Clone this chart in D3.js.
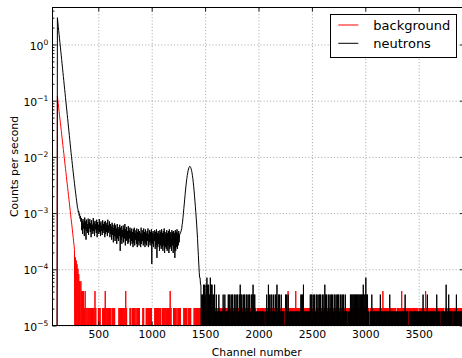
<!DOCTYPE html>
<html>
<head>
<meta charset="utf-8">
<script src="https://cdn.jsdelivr.net/npm/d3@7"></script>
<style>
  html, body { margin: 0; padding: 0; background: #fff; }
  svg { display: block; font-family: "DejaVu Sans", sans-serif; }
</style>
</head>
<body>
<svg id="chart" width="462" height="358"></svg>
<script>
// Spectrum: counts per channel, sampled every `channelStep` channels from `channelStart`.
const channelStart = 101;
const channelStep = 4;

// Live times (s) used to convert counts into counts per second.
const liveTimeBackground = 48800;
const liveTimeNeutrons = 56400;

const backgroundCounts = [
  0,0,0,0,5860,5010,4290,3670,3140,2690,
  2300,1970,1690,1440,1230,1050,900,770,659,563,
  481,412,352,301,258,220,188,161,138,118,
  101,86,74,63,54,46,39,34,29,25,
  21,18,15,13,11,0,8,0,7,0,
  6,0,5,0,4,0,3,2,0,3,
  0,2,0,2,0,2,0,1,0,2,
  0,1,0,1,
  1,0,1,0,1,0,1,0,1,0,1,0,1,0,1,0,1,0,2,0,
  1,0,0,0,0,0,1,0,1,0,1,0,0,0,0,0,1,0,1,0,
  1,0,2,0,1,0,1,0,1,0,1,0,1,0,1,0,0,0,1,0,
  1,0,1,0,1,0,0,0,0,0,0,0,0,0,1,0,1,0,1,0,
  1,0,1,0,1,0,1,0,1,0,2,0,1,0,0,0,0,0,0,0,
  1,0,1,0,0,0,1,0,1,0,1,0,1,0,0,0,1,0,1,0,
  1,0,1,0,0,0,0,0,0,0,1,0,1,0,0,0,0,0,1,0,
  1,0,1,0,1,0,1,0,1,0,1,0,0,0,0,0,0,0,1,0,
  1,0,1,0,1,0,1,0,1,0,1,0,1,0,0,0,1,0,1,0,
  1,0,1,0,1,0,1,0,1,0,1,0,1,0,2,0,1,0,0,0,
  0,0,1,0,1,0,1,0,1,0,0,0,1,0,1,0,1,0,1,0,
  0,0,0,0,0,0,1,0,1,0,1,0,1,0,0,0,1,0,1,0,
  1,0,1,0,0,0,0,0,0,0,1,0,1,0,1,0,1,0,1,0,
  1,0,1,0,1,0,1,0,1,0,1,0,1,0,1,0,1,0,1,0,
  1,0,1,0,1,0,1,0,1,0,1,0,1,0,0,0,1,0,1,0,
  1,0,1,0,1,0,1,0,1,0,1,0,1,0,1,0,1,0,1,0,
  1,0,1,0,1,0,1,0,1,0,1,0,0,0,1,0,1,0,1,0,
  1,0,1,0,1,0,1,0,1,0,1,0,1,0,1,0,1,0,1,0,
  1,0,0,0,1,0,1,0,1,0,1,0,1,0,1,0,1,0,1,0,
  1,0,1,0,1,0,1,0,1,0,1,0,1,0,1,0,0,0,1,0,
  1,0,1,0,1,0,1,0,1,0,1,0,1,0,1,0,1,0,1,0,
  1,0,1,0,1,0,1,0,1,0,0,0,1,0,1,0,1,0,1,0,
  1,0,1,0,1,0,1,0,1,0,1,0,1,0,1,0,1,0,1,0,
  1,0,1,0,1,0,1,0,1,0,2,0,1,0,1,0,1,0,1,0,
  1,0,1,0,1,0,1,0,2,0,1,0,1,0,1,0,1,0,1,0,
  1,0,1,0,0,0,1,0,1,0,1,0,1,0,1,0,1,0,1,0,
  1,0,1,0,1,0,1,0,1,0,1,0,1,0,0,0,1,0,1,0,
  1,0,1,0,1,0,1,0,1,0,1,0,1,0,1,0,1,0,1,0,
  1,0,1,0,1,0,1,0,1,0,1,0,0,0,1,0,1,0,1,0,
  1,0,1,0,1,0,1,0,1,0,1,0,1,0,1,0,1,0,1,0,
  1,0,1,0,1,0,1,0,1,0,1,0,1,0,1,0,1,0,0,0,
  1,0,1,0,1,0,1,0,1,0,1,0,1,0,1,0,1,0,1,0,
  1,0,1,0,1,0,1,0,1,0,1,0,1,0,1,0,1,0,1,0,
  0,0,1,0,1,0,1,0,1,0,1,0,1,0,1,0,1,0,1,0,
  1,0,1,0,1,0,1,0,1,0,1,0,2,0,1,0,1,0,1,0,
  1,0,1,0,1,0,1,0,1,0,1,0,1,0,1,0,1,0,1,0,
  1,0,1,0,0,0,1,0,1,0,1,0,1,0,1,0,2,0,1,0,
  1,0,1,0,1,0,1,0,1,0,1,0,1,0,1,0,1,0,1,0,
  1,0,1,0,1,0,1,0,1,0,1,0,1,0,1,0,0,0,1,0,
  1,0,1,0,1,0,1,0,1,0,1,0,2,0,1,0,1,0,1,0,
  1,0,1,0,1,0,1,0,1,0,1,0,1,0,1,0,1,0,1,0,
  1,0,1,0,1,0,1,0,1,0,1,0,1,0,1,0,0,0,1,0,
  1,0,1,0,1,0,1,0,1,0,1,0,1,0,1,0,1,0,1,0,
  1,0,1,0,1,0,1,0,1,0,1,0,1,0,1,0,1,0,1,0,
  1,0
];

const neutronCounts = [
  0,0,0,0,169200,142000,118400,100500,84600,71300,
  60400,50800,42900,36200,30500,25500,21400,18000,15200,12800,
  10700,9020,7610,6380,5360,4530,3840,3220,2710,2280,
  1920,1610,1350,1140,959,806,677,577,491,418,
  355,303,258,223,192,164,141,124,107,93,
  82,70,67,58,61,51,55,45,50,40,
  46,28,41,24,44,30,38,22,47,29,
  40,19,43,27,36,25,45,23,39,30,
  44,26,37,21,42,28,35,24,46,27,
  38,22,41,29,36,25,43,21,39,28,
  35,24,44,26,37,22,40,27,34,23,
  42,25,36,28,39,21,41,24,35,26,
  38,22,43,25,34,27,40,21,36,24,
  33,19,38,23,35,17,31,22,37,18,
  34,21,30,16,36,20,32,18,29,22,
  35,12,31,19,33,16,28,21,34,17,
  30,20,36,15,29,18,32,19,27,16,
  33,17,28,20,31,15,27,18,30,16,
  26,14,29,17,31,15,25,19,28,16,
  30,14,26,18,29,15,27,17,25,14,
  31,16,24,18,28,15,30,17,26,14,
  29,16,25,15,27,18,30,14,24,17,
  28,15,26,17,29,7,25,16,27,14,
  24,18,28,13,26,15,29,9,25,14,
  27,16,24,12,28,15,26,13,29,14,
  25,12,27,15,30,11,26,14,24,13,
  28,12,25,15,27,11,29,13,26,14,
  24,12,28,15,26,11,27,13,25,9,
  28,12,26,14,29,13,25,15,27,17,
  23,24,25,26,28,30,35,39,47,56,
  68,82,100,121,145,172,202,232,263,293,
  321,344,363,375,384,376,365,348,325,298,
  266,235,200,170,140,114,92,73,58,46,
  36,27,20,14,10,7,5,4,4,3,
  3,0,2,0,2,0,3,0,3,0,2,0,3,0,4,0,3,0,3,0,
  2,0,4,0,3,0,3,0,2,0,2,0,3,0,1,0,2,0,1,0,
  1,0,2,0,1,0,1,0,1,0,1,0,2,0,1,0,2,0,1,0,
  1,0,1,0,2,0,2,0,2,0,1,0,2,0,2,0,1,0,2,0,
  2,0,1,0,2,0,2,0,1,0,2,0,3,0,2,0,2,0,1,0,
  2,0,2,0,1,0,2,0,2,0,1,0,2,0,2,0,1,0,2,0,
  2,0,3,0,2,0,2,0,1,0,1,0,1,0,1,0,1,0,1,0,
  1,0,1,0,1,0,1,0,1,0,0,0,1,0,2,0,1,0,3,0,
  2,0,1,0,2,0,2,0,1,0,2,0,1,0,2,0,2,0,3,0,
  1,0,2,0,2,0,1,0,2,0,1,0,1,0,1,0,0,0,2,0,
  2,0,1,0,2,0,1,0,1,0,1,0,1,0,1,0,1,0,1,0,
  1,0,1,0,1,0,1,0,1,0,1,0,1,0,2,0,2,0,2,0,
  3,0,1,0,1,0,1,0,1,0,1,0,1,0,1,0,2,0,2,0,
  2,0,1,0,2,0,2,0,1,0,2,0,2,0,1,0,2,0,2,0,
  2,0,1,0,2,0,2,0,1,0,3,0,2,0,2,0,1,0,2,0,
  2,0,1,0,2,0,2,0,2,0,1,0,2,0,2,0,1,0,2,0,
  2,0,2,0,1,0,2,0,2,0,1,0,2,0,2,0,1,0,2,0,
  1,0,1,0,0,0,1,0,1,0,2,0,2,0,2,0,2,0,2,0,
  2,0,2,0,2,0,2,0,2,0,2,0,2,0,2,0,2,0,2,0,
  3,0,2,0,2,0,4,0,2,0,2,0,1,0,0,0,1,0,1,0,
  2,0,1,0,1,0,1,0,1,0,1,0,1,0,1,0,1,0,1,0,
  2,0,1,0,1,0,1,0,1,0,1,0,1,0,1,0,1,0,1,0,
  1,0,2,0,1,0,1,0,1,0,1,0,1,0,1,0,1,0,1,0,
  1,0,1,0,1,0,1,0,1,0,1,0,1,0,1,0,1,0,2,0,
  1,0,1,0,1,0,0,0,1,0,1,0,1,0,1,0,1,0,1,0,
  1,0,1,0,1,0,1,0,1,0,1,0,1,0,1,0,1,0,1,0,
  2,0,1,0,1,0,1,0,1,0,2,0,1,0,1,0,1,0,1,0,
  1,0,1,0,1,0,1,0,1,0,1,0,2,0,1,0,1,0,1,0,
  0,0,1,0,1,0,1,0,1,0,1,0,1,0,3,0,1,0,1,0,
  2,0,1,0,1,0,1,0,1,0,0,0,1,0,1,0,1,0,2,0,
  1,0,1,0,1,0,1,0,1,0,1,0,1,0,1,0
];

const seriesNames = ["background", "neutrons"];
const xTickValues = [500, 1000, 1500, 2000, 2500, 3000, 3500];
const yTickExponents = [0, -1, -2, -3, -4, -5];
const xAxisLabel = "Channel number";
const yAxisLabel = "Counts per second";

// ---- layout ----
const plot = { left: 52.5, top: 7.5, right: 464, bottom: 325.5 };
const baseFont = 10.8;

const x = d3.scaleLinear().domain([71.2, 3924.2]).range([plot.left, plot.right]);
const y = d3.scaleLog().domain([1e-5, Math.pow(10, 0.658)]).range([plot.bottom, plot.top]);

const svg = d3.select("#chart");

svg.append("rect").attr("width", 462).attr("height", 358).attr("fill", "#fff");

svg.append("defs").append("clipPath").attr("id", "plot-clip")
  .append("rect")
  .attr("x", plot.left).attr("y", plot.top)
  .attr("width", plot.right - plot.left).attr("height", plot.bottom - plot.top);

// ---- dotted grid ----
const decadeValues = yTickExponents.map(e => Math.pow(10, e));
const grid = svg.append("g").attr("class", "grid");
grid.append("g")
  .attr("transform", `translate(0,${plot.bottom})`)
  .call(d3.axisBottom(x).tickValues(xTickValues).tickSize(-(plot.bottom - plot.top)).tickFormat(""));
grid.append("g")
  .attr("transform", `translate(${plot.left},0)`)
  .call(d3.axisLeft(y).tickValues(decadeValues).tickSize(-(plot.right - plot.left)).tickFormat(""));
grid.selectAll(".domain").remove();
grid.selectAll("line")
  .attr("stroke", "#8c8c8c")
  .attr("stroke-width", 0.8)
  .attr("stroke-dasharray", "1,2.2");

// ---- spectra ----
const floorRate = 1e-7; // empty channels drop below the axis
const series = [
  { name: seriesNames[0], counts: backgroundCounts, liveTime: liveTimeBackground, color: "#ff0000" },
  { name: seriesNames[1], counts: neutronCounts, liveTime: liveTimeNeutrons, color: "#000000" }
];

const lines = svg.append("g").attr("clip-path", "url(#plot-clip)");
series.forEach(s => {
  const path = d3.line()
    .x((c, i) => x(channelStart + i * channelStep))
    .y(c => y(Math.max(c / s.liveTime, floorRate)));
  lines.append("path")
    .datum(s.counts)
    .attr("d", path)
    .attr("fill", "none")
    .attr("stroke", s.color)
    .attr("stroke-width", 1)
    .attr("stroke-linejoin", "round");
});

// ---- axes (ticks inward on all four sides) ----
const minorValues = [];
for (let e = -5; e <= 0; e++) {
  for (let m = 2; m <= 9; m++) {
    const v = m * Math.pow(10, e);
    if (v <= y.domain()[1]) minorValues.push(v);
  }
}

const axes = svg.append("g").attr("class", "axes");

const xBottom = axes.append("g")
  .attr("transform", `translate(0,${plot.bottom})`)
  .call(d3.axisBottom(x).tickValues(xTickValues).tickSizeInner(-4).tickSizeOuter(0).tickPadding(4.6).tickFormat(d3.format("d")));

axes.append("g")
  .attr("transform", `translate(0,${plot.top})`)
  .call(d3.axisTop(x).tickValues(xTickValues).tickSizeInner(-4).tickSizeOuter(0).tickFormat(""));

const yLeft = axes.append("g")
  .attr("transform", `translate(${plot.left},0)`)
  .call(d3.axisLeft(y).tickValues(decadeValues).tickSizeInner(-4).tickSizeOuter(0).tickPadding(4.2).tickFormat(() => ""));

axes.append("g")
  .attr("transform", `translate(${plot.left},0)`)
  .call(d3.axisLeft(y).tickValues(minorValues).tickSizeInner(-2).tickSizeOuter(0).tickFormat(""));

axes.append("g")
  .attr("transform", `translate(${plot.right},0)`)
  .call(d3.axisRight(y).tickValues(decadeValues).tickSizeInner(-4).tickSizeOuter(0).tickFormat(""));

axes.append("g")
  .attr("transform", `translate(${plot.right},0)`)
  .call(d3.axisRight(y).tickValues(minorValues).tickSizeInner(-2).tickSizeOuter(0).tickFormat(""));

axes.selectAll(".domain").remove();
axes.selectAll(".tick line").attr("stroke", "#000").attr("stroke-width", 0.9);

xBottom.selectAll(".tick text")
  .attr("font-family", "DejaVu Sans, sans-serif")
  .attr("font-size", baseFont)
  .attr("fill", "#000");

// Power-of-ten labels with superscript exponents
yLeft.selectAll(".tick text").each(function (d) {
  const e = Math.round(Math.log10(d));
  const t = d3.select(this)
    .attr("font-family", "DejaVu Sans, sans-serif")
    .attr("font-size", baseFont)
    .attr("fill", "#000")
    .attr("dy", "0.42em")
    .text(null);
  t.append("tspan").text("10");
  t.append("tspan")
    .attr("dy", -5)
    .attr("font-size", baseFont * 0.7)
    .text(e === 0 ? "0" : "\u2212" + (-e));
});

// frame
svg.append("rect")
  .attr("x", plot.left).attr("y", plot.top)
  .attr("width", plot.right - plot.left).attr("height", plot.bottom - plot.top)
  .attr("fill", "none").attr("stroke", "#000").attr("stroke-width", 1);

// ---- axis labels ----
svg.append("text")
  .attr("x", (plot.left + 461) / 2)
  .attr("y", 356)
  .attr("text-anchor", "middle")
  .attr("font-size", baseFont)
  .text(xAxisLabel);

svg.append("text")
  .attr("transform", "rotate(-90)")
  .attr("x", -(plot.top + plot.bottom) / 2)
  .attr("y", 18.3)
  .attr("text-anchor", "middle")
  .attr("font-size", baseFont)
  .text(yAxisLabel);

// ---- legend ----
const legend = svg.append("g").attr("class", "legend");
legend.append("rect")
  .attr("x", 330.5).attr("y", 14.5)
  .attr("width", 126).attr("height", 43)
  .attr("fill", "#fff").attr("stroke", "#000").attr("stroke-width", 1);

series.forEach((s, i) => {
  const ly = 25 + i * 18.3;
  legend.append("line")
    .attr("x1", 338.3).attr("x2", 358.3)
    .attr("y1", ly).attr("y2", ly)
    .attr("stroke", s.color).attr("stroke-width", 1);
  legend.append("text")
    .attr("x", 373.3).attr("y", ly + 4.9)
    .attr("font-size", 13)
    .text(s.name);
});
</script>
</body>
</html>
